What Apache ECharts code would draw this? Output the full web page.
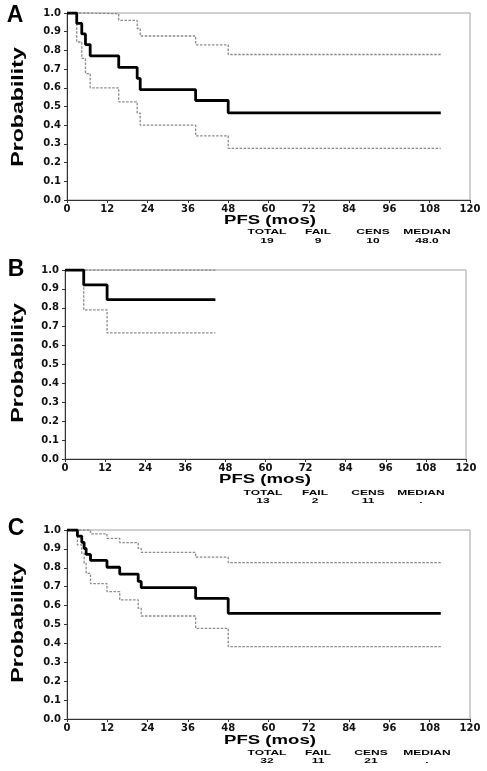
<!DOCTYPE html>
<html>
<head>
<meta charset="utf-8">
<script src="https://cdn.jsdelivr.net/npm/echarts@6/dist/echarts.min.js"></script>
<style>
html,body{margin:0;padding:0;background:#fff;}
#chart{width:487px;height:771px;}
</style>
</head>
<body>
<div id="chart"></div>
<script>
// ---- Data ----
const xTicks = [0, 12, 24, 36, 48, 60, 72, 84, 96, 108, 120];
const statHeaders = ['TOTAL', 'FAIL', 'CENS', 'MEDIAN'];

// Panel A
const aTimes = [0, 2.9, 4.4, 5.5, 6.9, 15.4, 20.9, 21.8, 38.3, 48.0];
const aSurv  = [1, 0.944, 0.888, 0.831, 0.771, 0.709, 0.650, 0.590, 0.532, 0.466];
const aUpper = [1, 1, 1, 1, 0.996, 0.961, 0.917, 0.877, 0.830, 0.778];
const aLower = [1, 0.845, 0.757, 0.676, 0.600, 0.525, 0.465, 0.400, 0.343, 0.276];
const aEnd = 111.3;
const aStats = ['19', '9', '10', '48.0'];

// Panel B
const bTimes = [0, 5.6, 12.6];
const bSurv  = [1, 0.921, 0.843];
const bUpper = [1, 1, 1];
const bLower = [1, 0.789, 0.667];
const bEnd = 45.0;
const bStats = ['13', '2', '11', '.'];

// Panel C
const cTimes = [0, 3.1, 4.4, 5.1, 5.7, 7.0, 11.9, 15.7, 21.2, 22.1, 38.3, 48.0];
const cSurv  = [1, 0.968, 0.935, 0.902, 0.871, 0.839, 0.803, 0.767, 0.728, 0.695, 0.638, 0.559];
const cUpper = [1, 1, 1, 1, 1, 0.980, 0.956, 0.933, 0.903, 0.882, 0.856, 0.827];
const cLower = [1, 0.921, 0.877, 0.824, 0.770, 0.716, 0.674, 0.630, 0.586, 0.545, 0.480, 0.383];
const cEnd = 111.3;
const cStats = ['32', '11', '21', '.'];

// ---- Build ----
function steps(times, vals, end) {
  const d = times.map((t, i) => [t, vals[i]]);
  d.push([end, vals[vals.length - 1]]);
  return d;
}

const panels = [
  {letter: 'A', times: aTimes, surv: aSurv, up: aUpper, lo: aLower, end: aEnd, stats: aStats,
   grid: {left: 67, top: 13, width: 403, height: 187},
   letterPos: [15, 16], probPos: [18, 107], pfsPos: [270, 221], statY: 232, valY: 241, statX: [267, 318, 373, 427]},
  {letter: 'B', times: bTimes, surv: bSurv, up: bUpper, lo: bLower, end: bEnd, stats: bStats,
   grid: {left: 65, top: 270, width: 401, height: 189},
   letterPos: [16, 270], probPos: [18, 363], pfsPos: [265, 480], statY: 493, valY: 501, statX: [263, 315, 368, 421]},
  {letter: 'C', times: cTimes, surv: cSurv, up: cUpper, lo: cLower, end: cEnd, stats: cStats,
   grid: {left: 67, top: 530, width: 403, height: 189},
   letterPos: [16, 529], probPos: [18, 623], pfsPos: [270, 741], statY: 753, valY: 761, statX: [267, 318, 371, 427]}
];

const grids = [], xAxes = [], yAxes = [], series = [], graphics = [];
const labelFont = 'DejaVu Sans';

panels.forEach((p, i) => {
  grids.push(Object.assign({show: true, borderColor: '#a0a0a0', borderWidth: 1, backgroundColor: 'transparent'}, p.grid));
  xAxes.push({
    type: 'value', gridIndex: i, min: xTicks[0], max: xTicks[xTicks.length - 1], interval: 12,
    splitLine: {show: false},
    axisLine: {show: true, lineStyle: {color: '#333', width: 1}},
    axisTick: {show: true, length: 3, lineStyle: {color: '#333'}},
    axisLabel: {color: '#111', fontFamily: labelFont, fontWeight: 'bold', fontSize: 10, margin: 4}
  });
  yAxes.push({
    type: 'value', gridIndex: i, min: 0, max: 1, interval: 0.1,
    splitLine: {show: false},
    axisLine: {show: true, lineStyle: {color: '#333', width: 1}},
    axisTick: {show: true, length: 3, lineStyle: {color: '#333'}},
    axisLabel: {color: '#111', fontFamily: labelFont, fontWeight: 'bold', fontSize: 10, margin: 6,
                formatter: v => v.toFixed(1)}
  });
  const ciStyle = {color: '#8a8a8a', width: 1.3, type: [2.5, 1.5]};
  series.push({type: 'line', xAxisIndex: i, yAxisIndex: i, step: 'end', symbol: 'none',
               data: steps(p.times, p.lo, p.end), lineStyle: ciStyle, z: 2});
  series.push({type: 'line', xAxisIndex: i, yAxisIndex: i, step: 'end', symbol: 'none',
               data: steps(p.times, p.up, p.end), lineStyle: ciStyle, z: 2});
  series.push({type: 'line', xAxisIndex: i, yAxisIndex: i, step: 'end', symbol: 'none',
               data: steps(p.times, p.surv, p.end), lineStyle: {color: '#000', width: 2.8}, z: 3});

  graphics.push({type: 'text', x: p.letterPos[0], y: p.letterPos[1],
    style: {text: p.letter, font: 'bold 23px "Liberation Sans"', fill: '#000', textAlign: 'center', textVerticalAlign: 'middle'}});
  graphics.push({type: 'text', x: p.probPos[0], y: p.probPos[1], rotation: Math.PI / 2, scaleX: 1.36,
    style: {text: 'Probability', font: 'bold 17px "Liberation Sans"', fill: '#000', textAlign: 'center', textVerticalAlign: 'middle'}});
  graphics.push({type: 'text', x: p.pfsPos[0], y: p.pfsPos[1], scaleX: 1.55,
    style: {text: 'PFS (mos)', font: 'bold 12px "Liberation Sans"', fill: '#000', textAlign: 'center', textVerticalAlign: 'middle'}});
  statHeaders.forEach((h, k) => {
    graphics.push({type: 'text', x: p.statX[k], y: p.statY, scaleX: 1.6,
      style: {text: h, font: 'bold 7.5px "Liberation Sans"', fill: '#000', textAlign: 'center', textVerticalAlign: 'middle'}});
    graphics.push({type: 'text', x: p.statX[k], y: p.valY, scaleX: 1.6,
      style: {text: p.stats[k], font: 'bold 7.5px "Liberation Sans"', fill: '#000', textAlign: 'center', textVerticalAlign: 'middle'}});
  });
});

const chart = echarts.init(document.getElementById('chart'), null, {renderer: 'canvas'});
chart.setOption({
  animation: false,
  backgroundColor: '#fff',
  grid: grids,
  xAxis: xAxes,
  yAxis: yAxes,
  series: series,
  graphic: graphics
});
</script>
</body>
</html>
